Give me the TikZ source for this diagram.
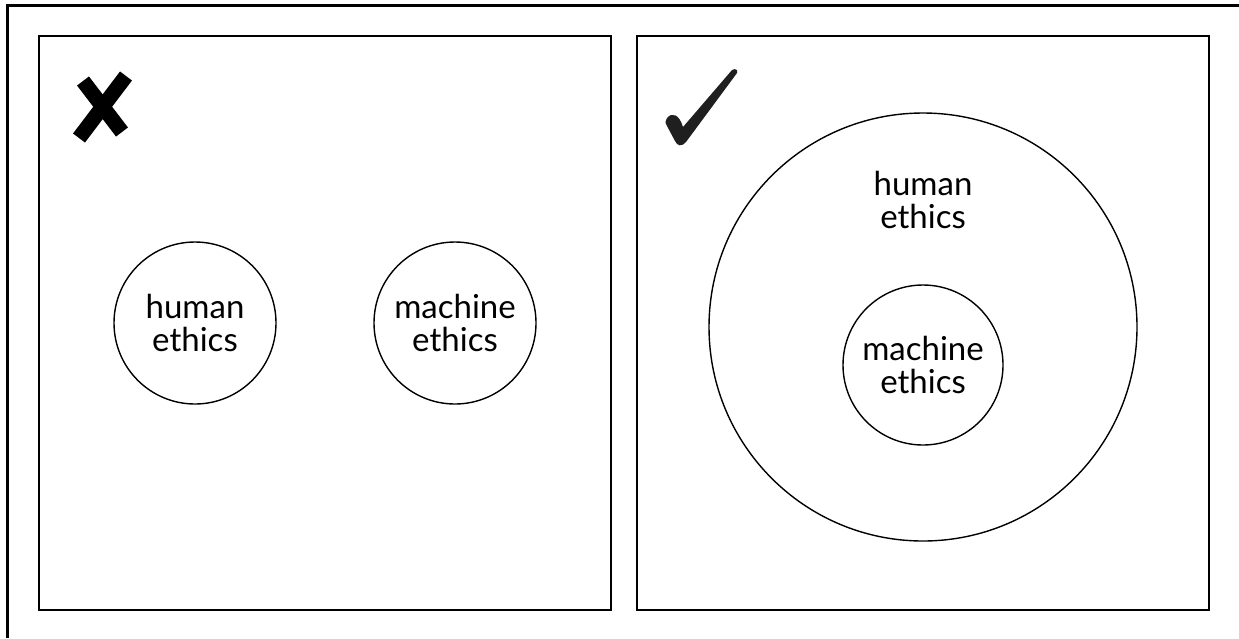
\documentclass[tikz,border=0pt]{standalone}
\usepackage{fontspec}
\setmainfont{Lato}
\usepackage{tikz}
\usetikzlibrary{positioning}

\begin{document}
\begin{tikzpicture}[x=1pt,y=-1pt,
  panel/.style={draw, line width=2pt},
  ring/.style={draw, circle, line width=1.4pt, inner sep=0pt, align=center,
    font=\fontsize{33}{33}\selectfont},
  label/.style={align=center, font=\fontsize{33}{33}\selectfont}]
  \useasboundingbox (0,0) rectangle (1239,638);
  % outer frame (cut off at right and bottom)
  \draw[line width=3pt] (7,638) -- (7,5) -- (1239,5);

  % wrong: two separate circles
  \draw[panel] (39,36) rectangle (611,610);
  \node[ring, minimum size=162] (human) at (195,323) {human\\ethics};
  \node[ring, minimum size=162] (machine) at (455,323) {machine\\ethics};
  \draw[line width=15pt] (79,138) -- (126,76);
  \draw[line width=15pt] (83,81) -- (122,132);

  % right: machine ethics inside human ethics
  \draw[panel] (637,36) rectangle (1209,610);
  \node[ring, minimum size=428] (outer) at (923,327) {};
  \node[label] (outerlbl) at (923,200) {human\\ethics};
  \node[ring, minimum size=160] (inner) at (923,365) {machine\\ethics};
  \fill[black!88] (667,118) .. controls (672,112) and (679,114) .. (683,127)
    -- (732,70) .. controls (736,68) and (738,70) .. (737,73)
    -- (686,142) .. controls (682,147) and (677,146) .. (675,141)
    -- (667,126) .. controls (665,123) and (665,120) .. (667,118) -- cycle;
\end{tikzpicture}
\end{document}
